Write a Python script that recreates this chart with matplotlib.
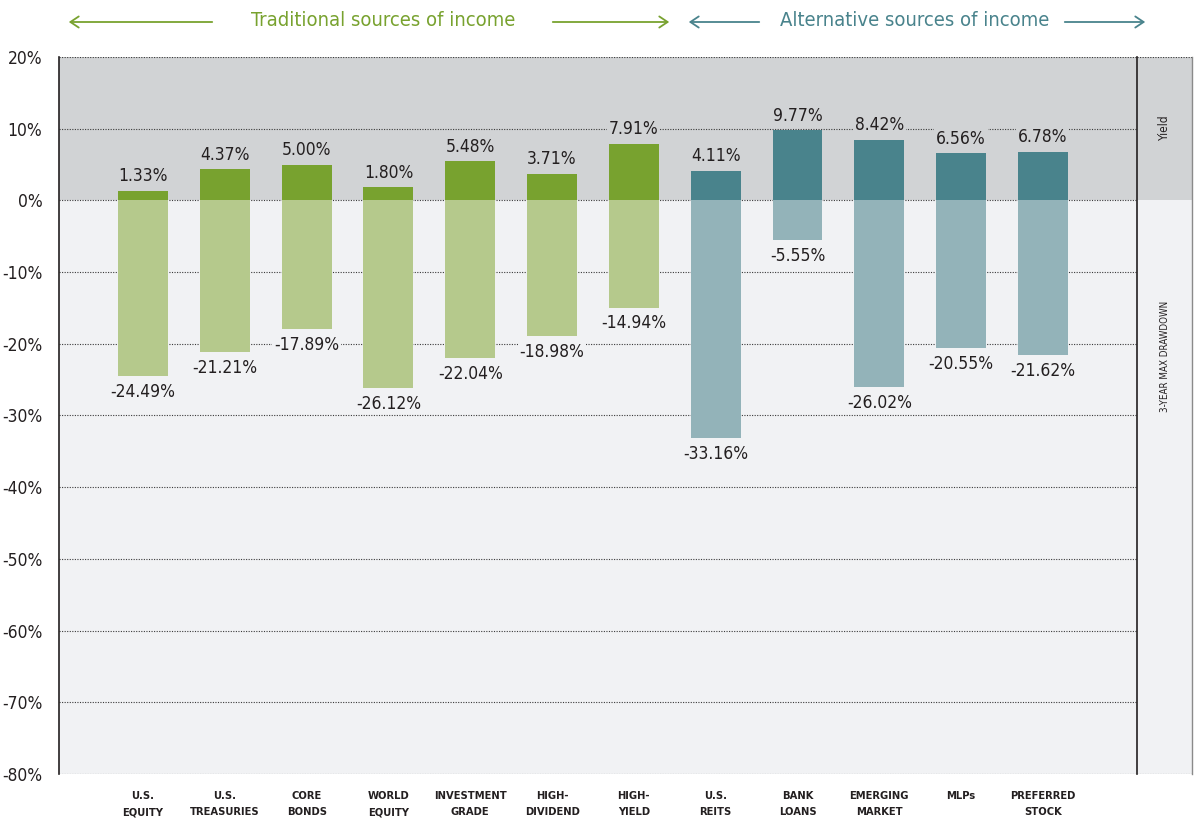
import matplotlib
matplotlib.use('Agg')
import matplotlib.pyplot as plt

plt.rcParams['font.family'] = ['DejaVu Sans']
plt.rcParams['font.stretch'] = 'condensed'

categories = ['U.S.\nEQUITY', 'U.S.\nTREASURIES', 'CORE\nBONDS', 'WORLD\nEQUITY',
              'INVESTMENT\nGRADE', 'HIGH-\nDIVIDEND', 'HIGH-\nYIELD', 'U.S.\nREITS',
              'BANK\nLOANS', 'EMERGING\nMARKET', 'MLPs', 'PREFERRED\nSTOCK']
yields = [1.33, 4.37, 5.00, 1.80, 5.48, 3.71, 7.91, 4.11, 9.77, 8.42, 6.56, 6.78]
drawdowns = [-24.49, -21.21, -17.89, -26.12, -22.04, -18.98, -14.94, -33.16,
             -5.55, -26.02, -20.55, -21.62]
n_traditional = 7
y_ticks = [20, 10, 0, -10, -20, -30, -40, -50, -60, -70, -80]

GREEN, GREEN_LT = '#78a22f', '#b5c98c'
TEAL, TEAL_LT = '#49838c', '#93b3b9'
BAND_TOP, BAND_BOT = '#d1d3d5', '#f1f2f4'
TEXT = '#231f20'
GRID = '#3a3a3a'

fig = plt.figure(figsize=(12.01, 8.22), dpi=100)
ax = fig.add_axes([59 / 1201, 48 / 822, 1078 / 1201, 717 / 822])
side = fig.add_axes([1137 / 1201, 48 / 822, 55 / 1201, 717 / 822])

x = list(range(len(categories)))
for a in (ax, side):
    a.set_ylim(-80, 20)
    a.axhspan(0, 20, color=BAND_TOP, zorder=0, lw=0)
    a.axhspan(-80, 0, color=BAND_BOT, zorder=0, lw=0)
    for s in ('top', 'bottom'):
        a.spines[s].set_visible(False)

ax.set_xlim(-1.027, 12.15)
for t in y_ticks:
    ax.axhline(t, color=GRID, lw=0.8, ls=(0, (1, 1.3)), zorder=1)
for t in (20, -80):
    side.axhline(t, color=GRID, lw=0.8, ls=(0, (1, 1.3)), zorder=1)

dark = [GREEN if i < n_traditional else TEAL for i in x]
light = [GREEN_LT if i < n_traditional else TEAL_LT for i in x]
ax.bar(x, yields, width=0.61, color=dark, zorder=2)
ax.bar(x, drawdowns, width=0.61, color=light, zorder=2)

for i in x:
    ax.annotate(f'{yields[i]:.2f}%', (i, yields[i]), xytext=(0, 4),
                textcoords='offset points', ha='center', va='bottom',
                fontsize=12.5, color=TEXT, zorder=3,
                bbox=dict(boxstyle='square,pad=0.1', fc=BAND_TOP, ec='none'))
    ax.annotate(f'{drawdowns[i]:.2f}%', (i, drawdowns[i]), xytext=(0, -5),
                textcoords='offset points', ha='center', va='top',
                fontsize=12.5, color=TEXT, zorder=3,
                bbox=dict(boxstyle='square,pad=0.1', fc=BAND_BOT, ec='none'))

ax.set_yticks(y_ticks)
ax.set_yticklabels([f'{t}%' for t in y_ticks], fontsize=12.5, color=TEXT)
ax.set_xticks(x)
ax.set_xticklabels(categories, fontsize=8, fontweight='bold', color=TEXT,
                   linespacing=1.85)
ax.tick_params(axis='x', length=0, pad=12)
ax.tick_params(axis='y', length=0, pad=12)
ax.spines['left'].set_color(TEXT)
ax.spines['left'].set_linewidth(1.2)
ax.spines['right'].set_visible(False)

side.set_xlim(0, 1)
side.set_xticks([])
side.set_yticks([])
side.spines['left'].set_color(TEXT)
side.spines['left'].set_linewidth(1.2)
side.spines['right'].set_color('#8a8a8a')
side.spines['right'].set_linewidth(1.0)
side.text(0.5, 10.2, 'Yield', rotation=90, ha='center', va='center',
          fontsize=8.5, color=TEXT)
side.text(0.5, -21.8, '3-YEAR MAX DRAWDOWN', rotation=90, ha='center',
          va='center', fontsize=7, color=TEXT)


# section headers with arrows
def header(label, color, x_text, left_arrow, right_arrow):
    y = 1 - 22 / 822
    fig.text(x_text / 1201, 1 - 20 / 822, label, ha='center', va='center',
             fontsize=14.5, color=color)
    for x_from, x_to in (left_arrow, right_arrow):
        fig.add_artist(matplotlib.patches.FancyArrowPatch(
            (x_from / 1201, y), (x_to / 1201, y), transform=fig.transFigure,
            arrowstyle='->,head_length=6,head_width=4', color=color, lw=1.3))


header('Traditional sources of income', GREEN, 383, (215, 66), (550, 672))
header('Alternative sources of income', TEAL, 915, (762, 686), (1062, 1148))

fig.savefig('out.png', dpi=100)
